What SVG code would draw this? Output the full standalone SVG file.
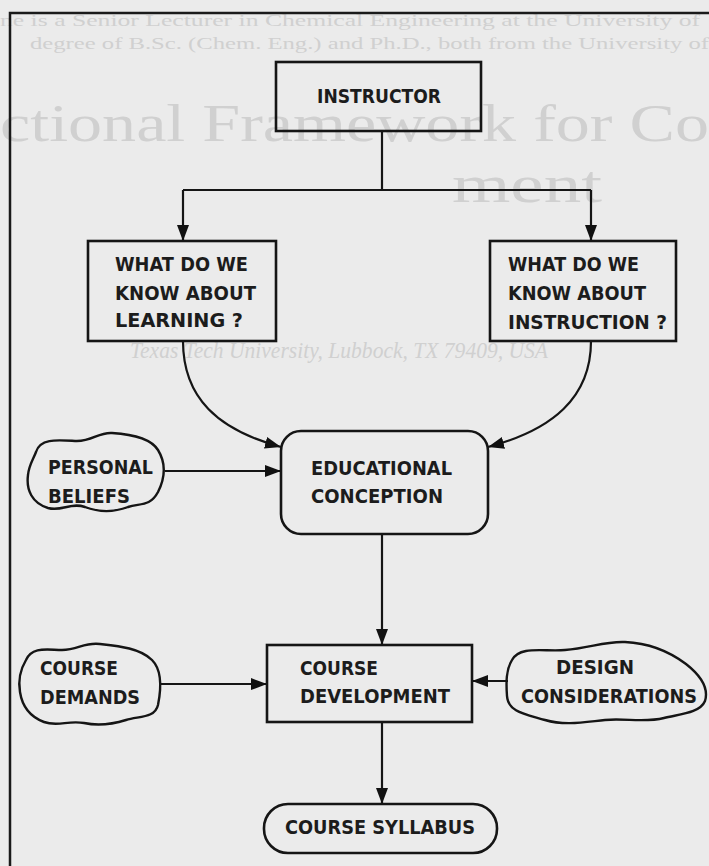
<svg xmlns="http://www.w3.org/2000/svg" width="709" height="866" viewBox="0 0 709 866">
  <defs>
    <marker id="arrow" viewBox="0 0 16 12" refX="16" refY="6" markerWidth="16" markerHeight="12" markerUnits="userSpaceOnUse" orient="auto">
      <path d="M0,0 L16,6 L0,12 Z" fill="#111"/>
    </marker>
    <style>
      .page { fill: #ebebeb; }
      .ghost { font-family: "Liberation Serif", "Times New Roman", serif; fill: #d0d0d0; }
      .frame { fill: none; stroke: #1a1a1a; stroke-width: 2.5; }
      .box { fill: none; stroke: #151515; stroke-width: 2.6; }
      .cloud { fill: none; stroke: #151515; stroke-width: 2.4; stroke-linejoin: round; }
      .link { fill: none; stroke: #151515; stroke-width: 2.2; }
      .label { font-family: "DejaVu Sans", "Liberation Sans", sans-serif; font-weight: bold; font-size: 20px; fill: #1c1c1c; }
    </style>
  </defs>

  <!-- paper -->
  <rect class="page" x="0" y="0" width="709" height="866"/>

  <!-- faint show-through of the underlying page -->
  <g id="underlay">
    <text class="ghost" x="0" y="26" font-size="16" textLength="700" lengthAdjust="spacingAndGlyphs">ne is a Senior Lecturer in Chemical Engineering at the University of</text>
    <text class="ghost" x="30" y="49" font-size="16" textLength="679" lengthAdjust="spacingAndGlyphs">degree of B.Sc. (Chem. Eng.) and Ph.D., both from the University of</text>
    <text class="ghost" x="0" y="141" font-size="52" textLength="709" lengthAdjust="spacingAndGlyphs">ctional Framework for Co</text>
    <text class="ghost" x="452" y="202" font-size="52" textLength="150" lengthAdjust="spacingAndGlyphs">ment</text>
    <text class="ghost" x="130" y="358" font-size="24" font-style="italic" textLength="418" lengthAdjust="spacingAndGlyphs">Texas Tech University, Lubbock, TX 79409, USA</text>
  </g>

  <!-- outer frame (left and top edges) -->
  <path class="frame" d="M10,866 L10,13 L709,13"/>

  <!-- connectors -->
  <g id="connectors">
    <path class="link" d="M382,131 L382,190"/>
    <path class="link" d="M183,190 L591,190"/>
    <path class="link" d="M183,190 L183,241" marker-end="url(#arrow)"/>
    <path class="link" d="M591,190 L591,241" marker-end="url(#arrow)"/>
    <path class="link" d="M183,341 C183,398 218,430 281,447" marker-end="url(#arrow)"/>
    <path class="link" d="M591,341 C591,398 552,430 488,447" marker-end="url(#arrow)"/>
    <path class="link" d="M165,471 L281,471" marker-end="url(#arrow)"/>
    <path class="link" d="M382,534 L382,645" marker-end="url(#arrow)"/>
    <path class="link" d="M161,684 L267,684" marker-end="url(#arrow)"/>
    <path class="link" d="M508,681 L472,681" marker-end="url(#arrow)"/>
    <path class="link" d="M382,722 L382,804" marker-end="url(#arrow)"/>
  </g>

  <g id="instructor">
    <rect class="box" x="276" y="62" width="205" height="69"/>
    <text class="label" x="317" y="103" textLength="124" lengthAdjust="spacingAndGlyphs">INSTRUCTOR</text>
  </g>

  <g id="learning">
    <rect class="box" x="88" y="241" width="188" height="100"/>
    <text class="label" x="115" y="271" textLength="133" lengthAdjust="spacingAndGlyphs">WHAT DO WE</text>
    <text class="label" x="115" y="300" textLength="141" lengthAdjust="spacingAndGlyphs">KNOW ABOUT</text>
    <text class="label" x="115" y="327" textLength="128" lengthAdjust="spacingAndGlyphs">LEARNING ?</text>
  </g>

  <g id="instruction">
    <rect class="box" x="490" y="241" width="186" height="100"/>
    <text class="label" x="508" y="271" textLength="131" lengthAdjust="spacingAndGlyphs">WHAT DO WE</text>
    <text class="label" x="508" y="300" textLength="138" lengthAdjust="spacingAndGlyphs">KNOW ABOUT</text>
    <text class="label" x="508" y="329" textLength="159" lengthAdjust="spacingAndGlyphs">INSTRUCTION ?</text>
  </g>

  <g id="personal-beliefs">
    <path class="cloud" d="M36,452 C40,438 58,440 75,441 C92,442 98,432 112,433 C128,434 150,437 158,450 C166,463 165,478 158,492 C150,507 140,503 128,507 C112,513 98,512 85,507 C70,502 62,512 48,508 C32,503 26,490 28,475 C29,465 33,460 36,452 Z"/>
    <text class="label" x="48" y="474" textLength="105" lengthAdjust="spacingAndGlyphs">PERSONAL</text>
    <text class="label" x="48" y="503" textLength="82" lengthAdjust="spacingAndGlyphs">BELIEFS</text>
  </g>

  <g id="educational-conception">
    <rect class="box" x="281" y="431" width="207" height="103" rx="20" ry="20"/>
    <text class="label" x="311" y="475" textLength="141" lengthAdjust="spacingAndGlyphs">EDUCATIONAL</text>
    <text class="label" x="311" y="503" textLength="132" lengthAdjust="spacingAndGlyphs">CONCEPTION</text>
  </g>

  <g id="course-demands">
    <path class="cloud" d="M26,660 C32,646 48,650 62,650 C78,650 84,642 100,644 C118,646 140,648 152,660 C162,670 161,690 158,705 C155,718 140,716 126,720 C110,725 98,726 84,723 C68,720 58,727 44,722 C28,716 22,705 20,692 C18,680 20,670 26,660 Z"/>
    <text class="label" x="40" y="675" textLength="78" lengthAdjust="spacingAndGlyphs">COURSE</text>
    <text class="label" x="40" y="704" textLength="100" lengthAdjust="spacingAndGlyphs">DEMANDS</text>
  </g>

  <g id="course-development">
    <rect class="box" x="267" y="645" width="205" height="77"/>
    <text class="label" x="300" y="675" textLength="78" lengthAdjust="spacingAndGlyphs">COURSE</text>
    <text class="label" x="300" y="703" textLength="150" lengthAdjust="spacingAndGlyphs">DEVELOPMENT</text>
  </g>

  <g id="design-considerations">
    <path class="cloud" d="M512,660 C520,645 545,652 565,650 C590,648 605,641 625,642 C648,643 670,652 686,664 C700,675 709,688 705,701 C700,713 680,714 664,718 C645,723 625,718 605,720 C585,722 565,726 545,720 C525,714 508,712 507,696 C506,682 506,670 512,660 Z"/>
    <text class="label" x="556" y="674" textLength="78" lengthAdjust="spacingAndGlyphs">DESIGN</text>
    <text class="label" x="521" y="703" textLength="176" lengthAdjust="spacingAndGlyphs">CONSIDERATIONS</text>
  </g>

  <g id="course-syllabus">
    <rect class="box" x="264" y="804" width="233" height="49" rx="24" ry="24"/>
    <text class="label" x="285" y="834" textLength="190" lengthAdjust="spacingAndGlyphs">COURSE SYLLABUS</text>
  </g>
</svg>
